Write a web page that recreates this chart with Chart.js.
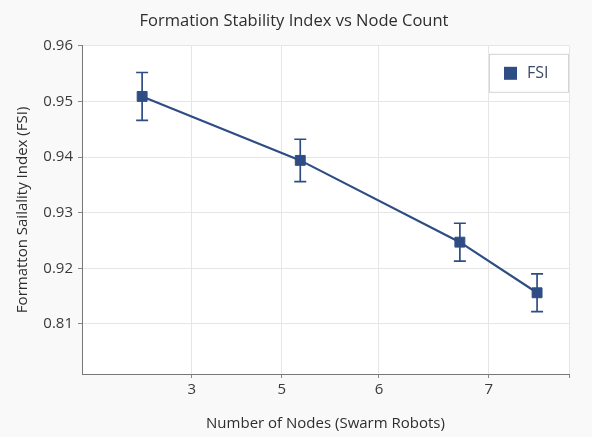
<!DOCTYPE html>
<html>
<head>
<meta charset="utf-8">
<script src="https://cdn.jsdelivr.net/npm/chart.js@4.4.0/dist/chart.umd.min.js"></script>
<style>
    html, body { margin: 0; padding: 0; background: #f9f9f9; }
    #wrap { width: 592px; height: 437px; }
</style>
</head>
<body>
<div id="wrap"><canvas id="fsiChart" width="592" height="437"></canvas></div>
<script>
// x positions of the points along the node axis (axis is drawn with uneven labels)
const nodePositions = [2.33, 4.46, 6.61, 7.65];
const fsiValues = [0.9509, 0.9394, 0.9247, 0.9156];
const fsiErrors = [0.0043, 0.0038, 0.0034, 0.0034];

const xTickValues = [3, 4.21, 5.52, 7, 8.08];
const xTickLabels = ['3', '5', '6', '7', ''];
const yTickValues = [0.91, 0.92, 0.93, 0.94, 0.95, 0.96];
const yTickLabels = ['0.81', '0.92', '0.93', '0.94', '0.95', '0.96'];

const lineColor = '#2f4d85';

// background behind the plot
const bgPlugin = {
    id: 'bg',
    beforeDraw(chart) {
        const { ctx, chartArea: a } = chart;
        ctx.save();
        ctx.fillStyle = '#f9f9f9';
        ctx.fillRect(0, 0, chart.width, chart.height);
        ctx.fillStyle = '#ffffff';
        ctx.fillRect(a.left, a.top, a.right - a.left, a.bottom - a.top);
        ctx.restore();
    }
};

// vertical error bars with caps
const errorBars = {
    id: 'errorBars',
    afterDatasetsDraw(chart) {
        const { ctx, scales: { x, y } } = chart;
        ctx.save();
        ctx.strokeStyle = lineColor;
        ctx.lineWidth = 1.7;
        nodePositions.forEach((nx, i) => {
            const px = x.getPixelForValue(nx);
            const top = y.getPixelForValue(fsiValues[i] + fsiErrors[i]);
            const bot = y.getPixelForValue(fsiValues[i] - fsiErrors[i]);
            ctx.beginPath();
            ctx.moveTo(px, top); ctx.lineTo(px, bot);
            ctx.moveTo(px - 6, top); ctx.lineTo(px + 6, top);
            ctx.moveTo(px - 6, bot); ctx.lineTo(px + 6, bot);
            ctx.stroke();
        });
        ctx.restore();
    }
};

// boxed legend in the top right corner of the plot
const boxLegend = {
    id: 'boxLegend',
    afterDraw(chart) {
        const { ctx, chartArea: a } = chart;
        const w = 80, h = 39;
        const left = a.right - w, top = a.top + 8;
        ctx.save();
        ctx.fillStyle = '#ffffff';
        ctx.fillRect(left, top, w, h);
        ctx.strokeStyle = '#d4d4d4';
        ctx.lineWidth = 1;
        ctx.strokeRect(left + 0.5, top + 0.5, w - 1, h - 1);
        ctx.fillStyle = lineColor;
        ctx.fillRect(left + 15, top + 13, 13, 13);
        ctx.fillStyle = '#3b4a66';
        ctx.font = '16px "Open Sans"';
        ctx.textBaseline = 'middle';
        ctx.fillText(chart.data.datasets[0].label, left + 38, top + 20);
        ctx.restore();
    }
};

new Chart(document.getElementById('fsiChart'), {
    type: 'line',
    data: {
        datasets: [{
            label: 'FSI',
            data: nodePositions.map((nx, i) => ({ x: nx, y: fsiValues[i] })),
            borderColor: lineColor,
            backgroundColor: lineColor,
            borderWidth: 2.2,
            pointStyle: 'rect',
            pointRadius: 7,
            pointBorderWidth: 1,
            tension: 0
        }]
    },
    options: {
        responsive: false,
        animation: false,
        layout: { padding: { left: 19, right: 23, top: 0, bottom: 0 } },
        plugins: {
            legend: { display: false },
            tooltip: { enabled: false },
            title: {
                display: true,
                text: 'Formation Stability Index vs Node Count',
                color: '#2e2e2e',
                font: { family: 'Open Sans', size: 16.5, weight: 'normal' },
                padding: { top: 11, bottom: 15 }
            }
        },
        scales: {
            x: {
                type: 'linear',
                min: 1.52,
                max: 8.08,
                afterBuildTicks: s => { s.ticks = xTickValues.map(v => ({ value: v })); },
                afterFit: s => { s.height = 63; },
                ticks: {
                    color: '#3a3a3a',
                    font: { family: 'Open Sans', size: 15 },
                    padding: 3,
                    maxRotation: 0,
                    autoSkip: false,
                    callback: (v, i) => xTickLabels[i]
                },
                grid: { color: '#e6e6e6', tickColor: '#888888', tickLength: 4 },
                border: { color: '#777777' },
                title: {
                    display: true,
                    text: 'Number of Nodes (Swarm Robots)',
                    color: '#2e2e2e',
                    font: { family: 'Open Sans', size: 15 },
                    padding: { top: 0, bottom: 4 }
                }
            },
            y: {
                min: 0.901,
                max: 0.96,
                afterBuildTicks: s => { s.ticks = yTickValues.map(v => ({ value: v })); },
                afterFit: s => { s.width = 63; },
                ticks: {
                    color: '#3a3a3a',
                    font: { family: 'Open Sans', size: 15 },
                    padding: 5,
                    callback: (v, i) => yTickLabels[i]
                },
                grid: { color: '#e6e6e6', tickColor: '#888888', tickLength: 4 },
                border: { color: '#777777' },
                title: {
                    display: true,
                    text: 'Formatton Sailality Index (FSI)',
                    color: '#2e2e2e',
                    font: { family: 'Open Sans', size: 15 },
                    padding: { top: -5, bottom: 0 }
                }
            }
        }
    },
    plugins: [bgPlugin, errorBars, boxLegend]
});
</script>
</body>
</html>
